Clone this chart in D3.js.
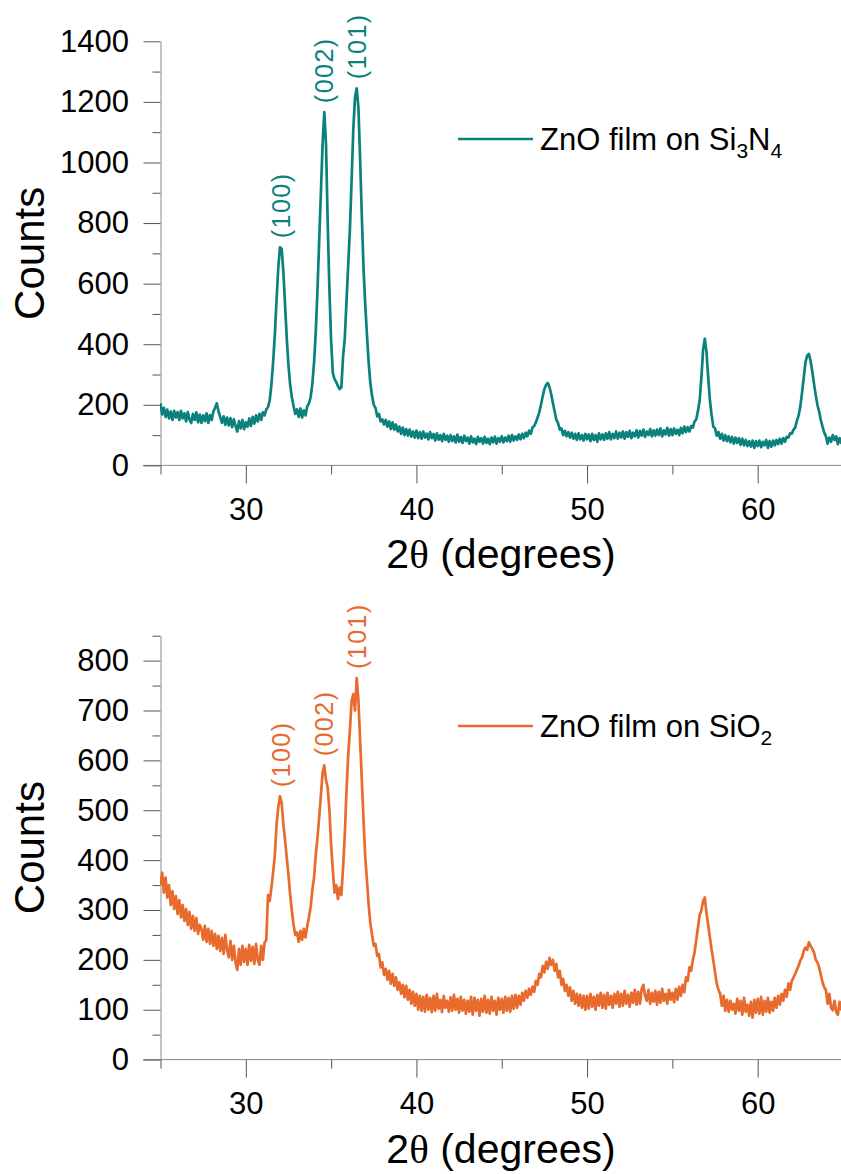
<!DOCTYPE html>
<html>
<head>
<meta charset="utf-8">
<script src="https://cdn.jsdelivr.net/npm/d3@7"></script>
<style>
  html, body { margin: 0; padding: 0; background: #fff; }
  svg { display: block; font-family: "Liberation Sans", Arial, Helvetica, sans-serif; }
</style>
</head>
<body>
<svg id="chart" width="841" height="1174"></svg>
<script>
// XRD scans, 2θ from 25° to 65° in 0.1° steps
const thetaStart = 25;
const thetaStep = 0.1;

// ZnO film on Si3N4 (counts)
const si3n4Counts = [
  205, 168, 190, 160, 184, 155, 178, 150, 180, 158,
  176, 150, 180, 155, 172, 145, 176, 152, 140, 170,
  150, 175, 142, 168, 140, 165, 146, 172, 140, 166,
  150, 178, 190, 205, 178, 160, 140, 162, 134, 158,
  132, 156, 126, 152, 130, 112, 146, 122, 150, 120,
  142, 128, 155, 130, 160, 138, 165, 145, 170, 150,
  175, 165, 185, 192, 215, 265, 340, 430, 545, 650,
  720, 715, 640, 530, 420, 330, 265, 225, 195, 170,
  185, 160, 188, 158, 182, 165, 195, 205, 225, 270,
  340, 440, 580, 740, 900, 1060, 1166, 1060, 800, 580,
  410, 305, 285, 275, 262, 252, 258, 360, 420, 540,
  660, 780, 940, 1110, 1215, 1245, 1180, 1010, 820, 650,
  530, 430, 340, 270, 230, 200, 190, 162, 170, 145,
  152, 135, 150, 128, 145, 120, 142, 118, 135, 112,
  128, 104, 125, 100, 120, 98, 118, 95, 112, 92,
  115, 90, 110, 88, 112, 92, 105, 86, 110, 90,
  104, 82, 106, 85, 100, 80, 104, 84, 98, 78,
  100, 80, 96, 76, 102, 78, 94, 74, 98, 80,
  92, 72, 96, 76, 88, 70, 94, 78, 90, 72,
  94, 74, 88, 70, 92, 76, 95, 72, 90, 78,
  96, 76, 92, 80, 98, 78, 100, 82, 96, 84,
  102, 86, 104, 90, 108, 96, 115, 104, 125, 130,
  142, 158, 175, 200, 228, 252, 266, 272, 258, 235,
  205, 178, 150, 140, 118, 122, 100, 114, 96, 110,
  92, 108, 88, 104, 84, 106, 86, 100, 82, 104,
  86, 102, 80, 104, 84, 100, 78, 106, 86, 102,
  84, 106, 88, 110, 86, 104, 90, 112, 88, 108,
  92, 112, 88, 110, 94, 114, 90, 108, 96, 116,
  92, 114, 98, 118, 94, 112, 100, 120, 96, 116,
  98, 118, 100, 122, 96, 116, 102, 124, 98, 120,
  100, 122, 104, 118, 100, 124, 106, 128, 110, 126,
  112, 130, 125, 145, 152, 180, 215, 290, 380, 418,
  375, 290, 215, 165, 128, 122, 98, 110, 88, 104,
  82, 100, 80, 96, 76, 94, 72, 92, 74, 90,
  68, 88, 66, 84, 64, 80, 62, 82, 58, 80,
  64, 82, 60, 78, 66, 84, 58, 80, 62, 82,
  66, 84, 70, 88, 72, 90, 78, 94, 92, 106,
  105, 118, 125, 148, 165, 195, 240, 290, 340, 362,
  368, 345, 310, 270, 232, 200, 178, 150, 128, 108,
  96, 72, 92, 78, 100, 84, 96, 70, 90, 74,
  82
];

// ZnO film on SiO2 (counts)
const sio2Counts = [
  350, 375, 335, 365, 325, 350, 310, 338, 302, 328,
  292, 320, 285, 310, 278, 302, 270, 296, 262, 288,
  258, 284, 252, 270, 262, 240, 268, 236, 262, 232,
  258, 228, 252, 222, 248, 218, 244, 212, 250, 220,
  205, 238, 200, 228, 195, 180, 222, 190, 228, 196,
  222, 190, 230, 198, 226, 192, 232, 200, 190, 228,
  200, 235, 240, 330, 318, 345, 375, 410, 470, 505,
  528, 515, 472, 440, 405, 370, 330, 298, 270, 250,
  255, 236, 258, 240, 262, 245, 268, 285, 306, 340,
  365, 410, 445, 485, 530, 575, 590, 560, 545, 500,
  430, 380, 335, 350, 322, 345, 330, 385, 450, 539,
  610, 660, 719, 733, 700, 765, 720, 639, 560, 480,
  405, 360, 310, 273, 250, 228, 232, 208, 212, 185,
  195, 170, 182, 160, 178, 152, 172, 148, 165, 140,
  155, 132, 150, 125, 148, 120, 140, 112, 136, 108,
  132, 100, 128, 98, 126, 96, 130, 100, 124, 95,
  128, 98, 132, 102, 120, 95, 128, 104, 118, 96,
  125, 98, 130, 100, 122, 94, 126, 98, 120, 92,
  118, 96, 126, 90, 124, 98, 120, 88, 122, 96,
  128, 94, 120, 92, 126, 98, 118, 90, 124, 100,
  122, 94, 126, 98, 124, 96, 128, 102, 130, 104,
  128, 110, 134, 118, 138, 124, 142, 130, 146, 136,
  158, 150, 172, 165, 188, 175, 196, 182, 204, 190,
  200, 178, 192, 165, 178, 150, 162, 138, 150, 128,
  145, 118, 138, 112, 132, 108, 130, 104, 128, 100,
  128, 102, 132, 106, 126, 100, 130, 108, 134, 104,
  130, 102, 134, 110, 128, 104, 132, 112, 136, 106,
  132, 108, 138, 112, 130, 106, 134, 114, 140, 110,
  136, 112, 142, 150, 128, 118, 140, 112, 134, 116,
  138, 110, 136, 114, 142, 118, 132, 112, 140, 120,
  134, 115, 142, 120, 146, 128, 150, 135, 165, 158,
  185, 178, 200, 215, 240, 265, 290, 299, 318, 325,
  293, 270, 245, 220, 199, 175, 153, 140, 132, 108,
  128, 98, 120, 96, 118, 100, 112, 92, 122, 98,
  118, 90, 124, 96, 110, 88, 116, 84, 120, 94,
  122, 92, 126, 90, 118, 96, 124, 94, 116, 98,
  124, 104, 128, 110, 132, 118, 140, 126, 153, 140,
  158, 165, 172, 180, 188, 199, 205, 218, 225, 220,
  235, 228, 222, 215, 200, 195, 185, 170, 155, 145,
  139, 112, 132, 104, 99, 118, 96, 90, 116, 100,
  110
];

// Reflection indices and their 2θ positions
const peakLabels = ["(100)", "(002)", "(101)"];
const peakAngles = [32.05, 34.6, 36.5];

// Tick values
const xMajorTicks = [30, 40, 50, 60];
const xMinorTicks = [25, 35, 45, 55, 65];
const topMajorTicks = [0, 200, 400, 600, 800, 1000, 1200, 1400];
const topMinorTicks = [100, 300, 500, 700, 900, 1100, 1300];
const bottomMajorTicks = [0, 100, 200, 300, 400, 500, 600, 700, 800];
const bottomMinorTicks = [50, 150, 250, 350, 450, 550, 650, 750, 850];

// Legend text pieces: [text, isSubscript]
const topLegend = [["ZnO film on Si", false], ["3", true], ["N", false], ["4", true]];
const bottomLegend = [["ZnO film on SiO", false], ["2", true]];

const svg = d3.select("#chart");
svg.append("rect").attr("width", 841).attr("height", 1174).attr("fill", "#fff");

const x = d3.scaleLinear().domain([25, 65]).range([160.5, 843]);
const axisColor = "#8a8a8a";
const tickColor = "#555";

svg.append("defs").append("clipPath").attr("id", "plotClip")
  .append("rect").attr("x", 160).attr("y", 0).attr("width", 690).attr("height", 1174);

const panels = [
  { counts: si3n4Counts, color: "#0b817e", yMax: 1400, yRange: [465.4, 41.3],
    major: topMajorTicks, minor: topMinorTicks, legend: topLegend, legendY: 139 },
  { counts: sio2Counts, color: "#e86a2c", yMax: 850, yRange: [1059.6, 635.7],
    major: bottomMajorTicks, minor: bottomMinorTicks, legend: bottomLegend, legendY: 726 }
];

// drop the axis-group font defaults so the page font applies
function plainAxis(g) { g.attr("font-family", null).attr("font-size", null); }

panels.forEach(p => {
  const y = d3.scaleLinear().domain([0, p.yMax]).range(p.yRange);
  const y0 = y(0);
  const data = p.counts.map((c, i) => ({ t: thetaStart + i * thetaStep, c }));

  // x axis
  const gx = svg.append("g").attr("transform", `translate(0,${y0})`);
  gx.append("line").attr("x1", 143).attr("x2", 841).attr("y1", 0).attr("y2", 0)
    .attr("stroke", axisColor).attr("stroke-width", 1);
  const xMajor = gx.append("g").call(d3.axisBottom(x).tickValues(xMajorTicks).tickSize(18).tickSizeOuter(0));
  plainAxis(xMajor);
  xMajor.select(".domain").remove();
  xMajor.selectAll("line").attr("stroke", tickColor);
  xMajor.selectAll("text").attr("y", 54.5).attr("dy", 0)
    .attr("font-size", 31).attr("fill", "#000");
  const xMinor = gx.append("g").call(d3.axisBottom(x).tickValues(xMinorTicks).tickSize(9).tickSizeOuter(0).tickFormat(""));
  xMinor.select(".domain").remove();
  xMinor.selectAll("line").attr("stroke", tickColor);

  // x axis title
  const xt = svg.append("text").attr("x", 501).attr("y", y0 + 103)
    .attr("text-anchor", "middle").attr("font-size", 41).attr("fill", "#000");
  xt.append("tspan").text("2");
  xt.append("tspan").attr("font-family", "'Liberation Serif', 'Times New Roman', serif").text("θ");
  xt.append("tspan").text(" (degrees)");

  // y axis
  const gy = svg.append("g").attr("transform", "translate(160.5,0)");
  const yMajor = gy.append("g").call(d3.axisLeft(y).tickValues(p.major).tickFormat(d3.format("d"))
    .tickSize(17).tickPadding(14.5).tickSizeOuter(0));
  plainAxis(yMajor);
  yMajor.select(".domain").attr("stroke", axisColor);
  yMajor.selectAll("line").attr("stroke", tickColor);
  yMajor.selectAll("text").attr("font-size", 31).attr("fill", "#000");
  const yMinor = gy.append("g").call(d3.axisLeft(y).tickValues(p.minor).tickSize(8).tickSizeOuter(0).tickFormat(""));
  yMinor.select(".domain").remove();
  yMinor.selectAll("line").attr("stroke", tickColor);

  // y axis title
  const yMid = (p.yRange[0] + p.yRange[1]) / 2;
  svg.append("text").attr("transform", `translate(44,${yMid}) rotate(-90)`)
    .attr("text-anchor", "middle").attr("font-size", 42).attr("fill", "#000").text("Counts");

  // diffraction pattern
  const line = d3.line().x(d => x(d.t)).y(d => y(d.c));
  svg.append("path").datum(data).attr("clip-path", "url(#plotClip)")
    .attr("d", line).attr("fill", "none").attr("stroke", p.color)
    .attr("stroke-width", 2.7).attr("stroke-linejoin", "round");

  // reflection labels above each peak
  peakLabels.forEach((lab, k) => {
    const a = peakAngles[k];
    const top = d3.max(data.filter(d => Math.abs(d.t - a) <= 0.15), d => d.c);
    svg.append("text")
      .attr("transform", `translate(${x(a)},${y(top) - 9}) rotate(-90)`)
      .attr("dy", "0.36em").attr("font-size", 25).attr("letter-spacing", 1.5)
      .attr("fill", p.color).text(lab);
  });

  // legend
  svg.append("line").attr("x1", 458).attr("x2", 533).attr("y1", p.legendY).attr("y2", p.legendY)
    .attr("stroke", p.color).attr("stroke-width", 2.6);
  const lt = svg.append("text").attr("x", 540).attr("y", p.legendY + 11)
    .attr("font-size", 31).attr("fill", "#000");
  let sub = false;
  p.legend.forEach(([txt, isSub]) => {
    const ts = lt.append("tspan").text(txt);
    if (isSub && !sub) { ts.attr("dy", 8).attr("font-size", 21); sub = true; }
    else if (!isSub && sub) { ts.attr("dy", -8); sub = false; }
    else if (isSub) ts.attr("font-size", 21);
  });
});
</script>
</body>
</html>
